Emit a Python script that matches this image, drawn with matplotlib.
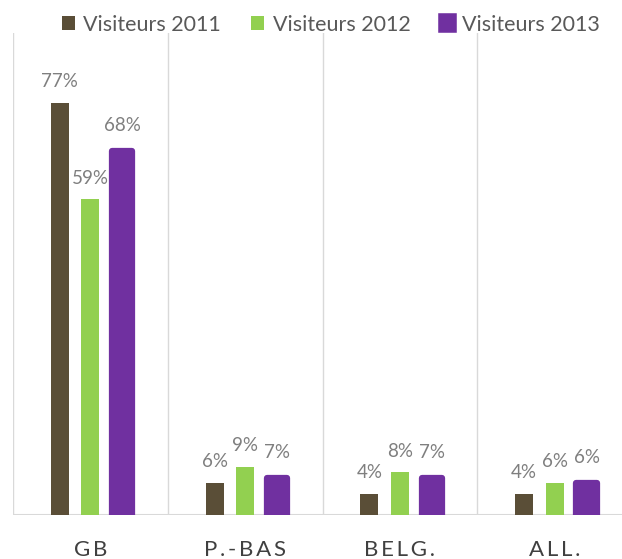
import numpy as np
import matplotlib
matplotlib.use('Agg')
import matplotlib.pyplot as plt
from matplotlib.patches import Patch

plt.rcParams['font.family'] = ['Lato', 'DejaVu Sans']

categories = ['GB', 'P.-BAS', 'BELG.', 'ALL.']
series = ['Visiteurs 2011', 'Visiteurs 2012', 'Visiteurs 2013']
v2011 = [77, 6, 4, 4]
v2012 = [59, 9, 8, 6]
v2013 = [68, 7, 7, 6]
colors = ['#5a4e37', '#92d050', '#7030a0']

fig = plt.figure(figsize=(6.22, 5.59), dpi=100)
ax = fig.add_axes([13/622, 44/559, 619/622, 482/559])

x = np.arange(len(categories))
offsets = [-0.197, 0.0, 0.206]
values = [v2011, v2012, v2013]

for i, (vals, off, c) in enumerate(zip(values, offsets, colors)):
    if i == 2:
        bars = ax.bar(x + off, vals, width=0.13, color=c, edgecolor=c,
                      linewidth=4.5, joinstyle='round', zorder=3)
        pad = 12
    else:
        bars = ax.bar(x + off, vals, width=0.116, color=c, zorder=3)
        pad = 9
    for xi, v in zip(x + off, vals):
        ax.annotate(f'{v}%', (xi, v), xytext=(0, pad), textcoords='offset points',
                    ha='center', va='bottom', fontsize=13.5, color='#7f7f7f')

ax.set_xlim(-0.5, 3.5)
ax.set_ylim(0, 90)
for g in np.arange(-0.5, 4, 1):
    ax.axvline(g, color='#d9d9d9', linewidth=1, zorder=1)
ax.axhline(0, color='#d9d9d9', linewidth=1.5, zorder=2)

for s in ax.spines.values():
    s.set_visible(False)
ax.set_yticks([])
ax.set_xticks(x)
ax.set_xticklabels(['\u2009'.join(c) for c in categories], fontsize=16, color='#404040')
ax.tick_params(axis='x', length=0, pad=18)

handles = [Patch(facecolor=colors[0]), Patch(facecolor=colors[1]),
           Patch(facecolor=colors[2], edgecolor=colors[2], linewidth=4, joinstyle='round')]
fig.legend(handles, series, loc='upper center', bbox_to_anchor=(0.532, 1.008), ncol=3,
           frameon=False, fontsize=15.5, handlelength=0.6, handleheight=0.6,
           handletextpad=0.4, columnspacing=1.4, labelcolor='#595959')

fig.savefig('out.png', dpi=100)
